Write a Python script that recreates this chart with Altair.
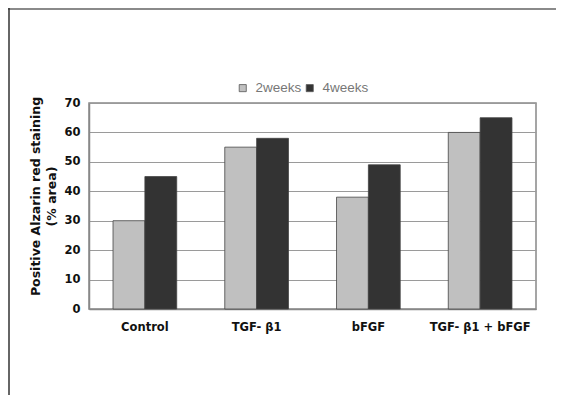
import altair as alt
import pandas as pd

groups = ["Control", "TGF- β1", "bFGF", "TGF- β1 + bFGF"]
series = ["2weeks", "4weeks"]
weeks2 = [30, 55, 38, 60]
weeks4 = [45, 58, 49, 65]
y_ticks = [0, 10, 20, 30, 40, 50, 60, 70]
colors = ["#c0c0c0", "#333333"]

rows = []
for g, a, b in zip(groups, weeks2, weeks4):
    rows.append({"group": g, "series": series[0], "value": a})
    rows.append({"group": g, "series": series[1], "value": b})
df = pd.DataFrame(rows)

W, H = 447, 206
PL, PT, PR, PB = 81, 95, 20, 86
FONT = "DejaVu Sans"
LFONT = "Liberation Sans"

bars = alt.Chart(df).mark_bar(stroke="#444444", strokeWidth=0.8).encode(
    x=alt.X(
        "group:N",
        sort=groups,
        scale=alt.Scale(paddingInner=0.43, paddingOuter=0.215),
        axis=alt.Axis(
            title=None, labelAngle=0, labelFont=FONT, labelFontWeight="bold",
            labelFontSize=11.5, labelColor="#111111", ticks=False,
            domainColor="#888888", domainWidth=1.5, labelPadding=12,
        ),
    ),
    xOffset=alt.XOffset("series:N", sort=series),
    y=alt.Y(
        "value:Q",
        scale=alt.Scale(domain=[0, 70]),
        axis=alt.Axis(
            values=y_ticks, title=["Positive Alzarin red staining", "(% area)"],
            titleFont=FONT, titleFontWeight="bold", titleFontSize=12.5,
            titleColor="#111111", titlePadding=5, titleLineHeight=16,
            titleY=93, titleAnchor="middle",
            labelFont=FONT, labelFontWeight="bold", labelFontSize=11.5,
            labelColor="#111111", ticks=False, labelPadding=9,
            domainColor="#888888", domainWidth=1.5,
            grid=True, gridColor="#9a9a9a", gridWidth=1,
        ),
    ),
    color=alt.Color(
        "series:N",
        sort=series,
        scale=alt.Scale(domain=series, range=colors),
        legend=alt.Legend(
            title=None, orient="none", direction="horizontal",
            legendX=147, legendY=-22, symbolType="square", symbolSize=50,
            symbolStrokeColor="#555555", symbolStrokeWidth=0.8,
            labelFont=LFONT, labelFontSize=13.5, labelColor="#777777",
            columnPadding=1, labelOffset=6,
        ),
    ),
)

frame = alt.Data(values=[{}])
top_line = alt.Chart(frame).mark_rule(color="#8a8a8a", strokeWidth=2).encode(
    x=alt.value(-PL), x2=alt.value(W + PR), y=alt.value(-PT + 1)
)
left_line = alt.Chart(frame).mark_rule(color="#333333", strokeWidth=1.5).encode(
    x=alt.value(-PL + 1), y=alt.value(-PT), y2=alt.value(H + PB)
)

chart = alt.layer(bars, top_line, left_line).properties(
    width=W, height=H,
    autosize=alt.AutoSizeParams(type="none"),
    padding={"left": PL, "top": PT, "right": PR, "bottom": PB},
    background="white",
).configure_view(stroke="#888888", strokeWidth=1.5)

chart.save("out.html", embed_options={"renderer": "svg", "actions": False})
